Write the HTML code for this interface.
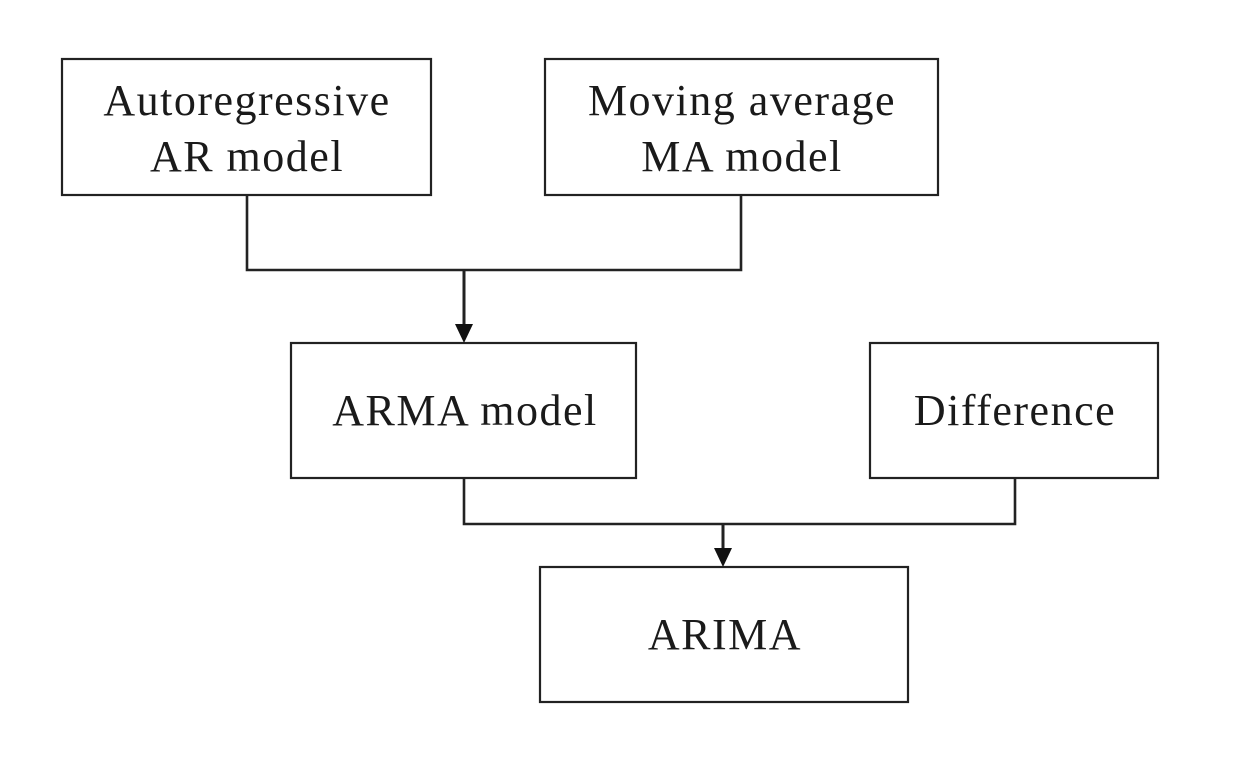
<!DOCTYPE html>
<html><head><meta charset="utf-8"><style>
html,body{margin:0;padding:0;background:#fff;}
svg{display:block}
text{font-family:"Liberation Serif",serif;font-size:44px;letter-spacing:1.5px;fill:#1a1a1a;text-anchor:middle}
</style></head><body>
<svg width="1260" height="758" viewBox="0 0 1260 758">
<g fill="#fff" stroke="#222" stroke-width="2.2">
<rect x="62" y="59" width="369" height="136"/>
<rect x="545" y="59" width="393" height="136"/>
<rect x="291" y="343" width="345" height="135"/>
<rect x="870" y="343" width="288" height="135"/>
<rect x="540" y="567" width="368" height="135"/>
</g>
<g fill="none" stroke="#222" stroke-width="2.6">
<polyline points="247,195 247,270 741,270 741,195"/>
<polyline points="464,478 464,524 1015,524 1015,478"/>
<line x1="464" y1="270" x2="464" y2="326" stroke-width="3"/>
<line x1="723" y1="524" x2="723" y2="550" stroke-width="3"/>
</g>
<polygon points="455,324 473,324 464,343" fill="#111"/>
<polygon points="714,548 732,548 723,567" fill="#111"/>
<text x="247" y="115">Autoregressive</text>
<text x="247" y="171">AR model</text>
<text x="742" y="115">Moving average</text>
<text x="742" y="171">MA model</text>
<text x="465" y="425">ARMA model</text>
<text x="1015" y="425">Difference</text>
<text x="725" y="649">ARIMA</text>
</svg>
</body></html>
